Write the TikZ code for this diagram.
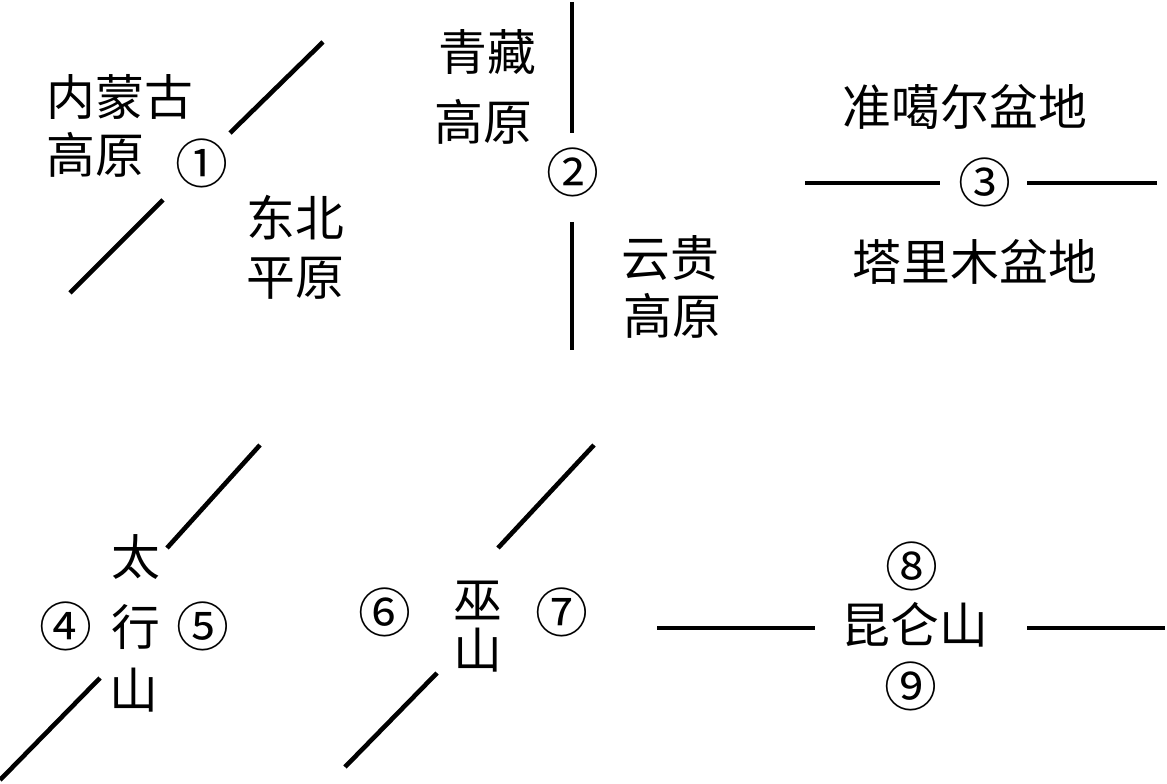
\documentclass[tikz,border=0pt]{standalone}
\usepackage{fontspec}
\setmainfont{Noto Sans CJK SC}
\tikzset{
  lbl/.style={draw=none,inner sep=0pt,font=\fontsize{24.5}{29}\selectfont},
  num/.style={draw=none,inner sep=0pt,font=\fontsize{26.5}{30}\selectfont},
  rng/.style={black,line width=2.3bp},
}
\begin{document}
\begin{tikzpicture}[line cap=butt]
\useasboundingbox (0bp,0bp) rectangle (583.5bp,392bp);
%%
\node (mg_a) at (23.0bp,343.5bp) [lbl,anchor=west] {内蒙古};
  \node (mg_b) at (23.0bp,314.5bp) [lbl,anchor=west] {高原};
  \node (num_1) at (101.0bp,310.5bp) [num] {①};
  \node (db_a) at (147.5bp,283.0bp) [lbl] {东北};
  \node (db_b) at (147.5bp,253.0bp) [lbl] {平原};
  \coordinate (r1_a) at (35.0bp,245.5bp);
  \coordinate (r1_b) at (81.5bp,292.0bp);
  \coordinate (r1_c) at (115.0bp,325.5bp);
  \coordinate (r1_d) at (161.5bp,371.0bp);
  \draw [rng] (r1_a) -- (r1_b);
  \draw [rng] (r1_c) -- (r1_d);
%
\node (qz_a) at (243.5bp,366.0bp) [lbl] {青藏};
  \node (qz_b) at (241.5bp,331.0bp) [lbl] {高原};
  \node (num_2) at (286.5bp,306.0bp) [num] {②};
  \node (yg_a) at (335.0bp,263.0bp) [lbl] {云贵};
  \node (yg_b) at (336.0bp,234.0bp) [lbl] {高原};
  \coordinate (r2_a) at (286.0bp,391.0bp);
  \coordinate (r2_b) at (286.0bp,325.5bp);
  \coordinate (r2_c) at (286.0bp,281.0bp);
  \coordinate (r2_d) at (286.0bp,217.0bp);
  \draw [rng] (r2_a) -- (r2_b);
  \draw [rng] (r2_c) -- (r2_d);
%
\node (zg) at (482.5bp,338.5bp) [lbl] {准噶尔盆地};
  \node (num_3) at (492.5bp,301.0bp) [num] {③};
  \node (tl) at (487.5bp,261.0bp) [lbl] {塔里木盆地};
  \coordinate (r3_a) at (402.5bp,300.5bp);
  \coordinate (r3_b) at (470.0bp,300.5bp);
  \coordinate (r3_c) at (513.5bp,300.5bp);
  \coordinate (r3_d) at (578.5bp,300.5bp);
  \draw [rng] (r3_a) -- (r3_b);
  \draw [rng] (r3_c) -- (r3_d);
%
\node (th_a) at (68.0bp,113.5bp) [lbl] {太};
  \node (th_b) at (68.0bp,78.5bp) [lbl] {行};
  \node (th_c) at (67.0bp,47.0bp) [lbl] {山};
  \node (num_4) at (33.0bp,79.0bp) [num] {④};
  \node (num_5) at (101.5bp,79.0bp) [num] {⑤};
  \coordinate (r4_a) at (0.0bp,2.0bp);
  \coordinate (r4_b) at (50.0bp,53.0bp);
  \coordinate (r4_c) at (83.5bp,118.0bp);
  \coordinate (r4_d) at (130.0bp,169.5bp);
  \draw [rng] (r4_a) -- (r4_b);
  \draw [rng] (r4_c) -- (r4_d);
%
\node (ws_a) at (239.0bp,92.0bp) [lbl] {巫};
  \node (ws_b) at (239.0bp,67.0bp) [lbl] {山};
  \node (num_6) at (192.5bp,86.0bp) [num] {⑥};
  \node (num_7) at (281.0bp,86.0bp) [num] {⑦};
  \coordinate (r5_a) at (172.5bp,8.5bp);
  \coordinate (r5_b) at (218.5bp,55.5bp);
  \coordinate (r5_c) at (249.0bp,118.0bp);
  \coordinate (r5_d) at (297.0bp,169.5bp);
  \draw [rng] (r5_a) -- (r5_b);
  \draw [rng] (r5_c) -- (r5_d);
%
\node (kl) at (457.5bp,79.5bp) [lbl] {昆仑山};
  \node (num_8) at (456.0bp,109.0bp) [num] {⑧};
  \node (num_9) at (455.5bp,49.0bp) [num] {⑨};
  \coordinate (r6_a) at (328.5bp,78.0bp);
  \coordinate (r6_b) at (407.5bp,78.0bp);
  \coordinate (r6_c) at (513.5bp,78.0bp);
  \coordinate (r6_d) at (582.5bp,78.0bp);
  \draw [rng] (r6_a) -- (r6_b);
  \draw [rng] (r6_c) -- (r6_d);
%
\end{tikzpicture}
\end{document}
